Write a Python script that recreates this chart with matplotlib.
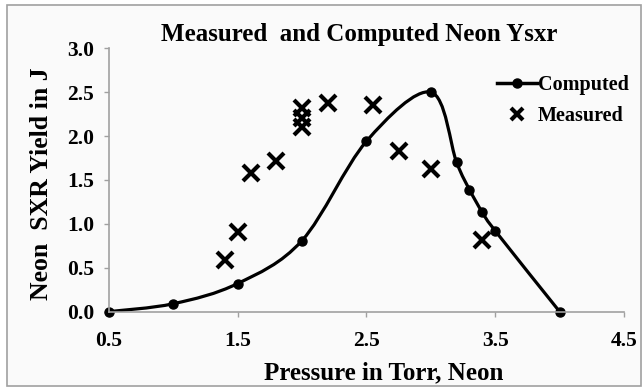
import matplotlib.pyplot as plt
import numpy as np
from matplotlib.path import Path
from matplotlib.patches import PathPatch, Rectangle
from matplotlib.lines import Line2D

plt.rcParams['font.family'] = ['Liberation Serif', 'DejaVu Serif']
plt.rcParams['font.weight'] = 'bold'

# computed yield (Torr, J)
p_comp = [0.5, 1.0, 1.5, 2.0, 2.5, 3.0, 3.2, 3.3, 3.4, 3.5, 4.0]
y_comp = [0.0, 0.09, 0.32, 0.81, 1.94, 2.50, 1.70, 1.39, 1.13, 0.92, 0.0]

# measured yield
p_meas = [1.4, 1.5, 1.6, 1.8, 2.0, 2.0, 2.0, 2.2, 2.55, 2.75, 3.0, 3.4]
y_meas = [0.59, 0.91, 1.58, 1.71, 2.32, 2.21, 2.10, 2.38, 2.35, 1.83, 1.63, 0.82]


def smooth_path(xs, ys):
    '''Excel-artige geglaettete Linie als Bezier-Pfad'''
    pts = np.column_stack([xs, ys])
    n = len(pts)
    verts = [pts[0]]
    codes = [Path.MOVETO]
    for i in range(n - 1):
        p0 = pts[max(i - 1, 0)]
        p1 = pts[i]
        p2 = pts[i + 1]
        p3 = pts[min(i + 2, n - 1)]
        c1 = p1 + (p2 - p0) / 6
        c2 = p2 - (p3 - p1) / 6
        verts += [c1, c2, p2]
        codes += [Path.CURVE4] * 3
    return Path(verts, codes)


fig = plt.figure(figsize=(6.44, 3.92), dpi=100, facecolor='white')
fig.patches.append(Rectangle((0.011, 0.015), 0.985, 0.972, transform=fig.transFigure,
                             facecolor='#fafafa', edgecolor='#a0a0a0', linewidth=1.2, zorder=-10))
ax = fig.add_axes([0.169, 0.205, 0.8, 0.672])
ax.set_facecolor('none')

ax.add_patch(PathPatch(smooth_path(p_comp, y_comp), facecolor='none', edgecolor='black', linewidth=2.3))
ax.plot(p_comp, y_comp, 'o', color='black', markersize=6.5, clip_on=False)
ax.plot(p_meas, y_meas, 'x', color='black', markersize=12, markeredgewidth=3)

ax.set_xlim(0.5, 4.5)
ax.set_ylim(0, 3.0)
ax.set_xticks([0.5, 1.5, 2.5, 3.5, 4.5])
ax.set_xticklabels(['0.5', '1.5', '2.5', '3.5', '4.5'])
ax.set_yticks(np.arange(0, 3.01, 0.5))
ax.set_yticklabels(['%.1f' % v for v in np.arange(0, 3.01, 0.5)])
ax.tick_params(labelsize=15.5, color='#a0a0a0', length=3.6, width=1)
ax.tick_params(axis='x', pad=10.5)
ax.tick_params(axis='y', pad=7)
for s in ['top', 'right']:
    ax.spines[s].set_visible(False)
for s in ['left', 'bottom']:
    ax.spines[s].set_color('#a0a0a0')
    ax.spines[s].set_linewidth(1.2)

ax.set_xlabel('Pressure in Torr, Neon', fontsize=18, fontweight='bold', va='center')
ax.xaxis.set_label_coords(0.534, -0.232)
ax.set_ylabel('Neon  SXR Yield in J', fontsize=18.5, fontweight='bold', va='center')
ax.yaxis.set_label_coords(-0.130, 0.485)
ax.set_title('Measured  and Computed Neon Ysxr', fontsize=18, fontweight='bold',
             x=0.486, y=1.052, va='center', pad=0)

handles = [Line2D([], [], color='black', marker='o', markersize=6.5, linewidth=2.5),
           Line2D([], [], color='black', marker='x', linestyle='none', markersize=8, markeredgewidth=3)]
ax.legend(handles, ['Computed', 'Measured'], loc='upper left', bbox_to_anchor=(0.753, 0.90),
          frameon=False, fontsize=14.5, handlelength=2.0, handletextpad=0.05,
          labelspacing=0.55, borderpad=0, borderaxespad=0)

plt.savefig('out.png', dpi=100)
